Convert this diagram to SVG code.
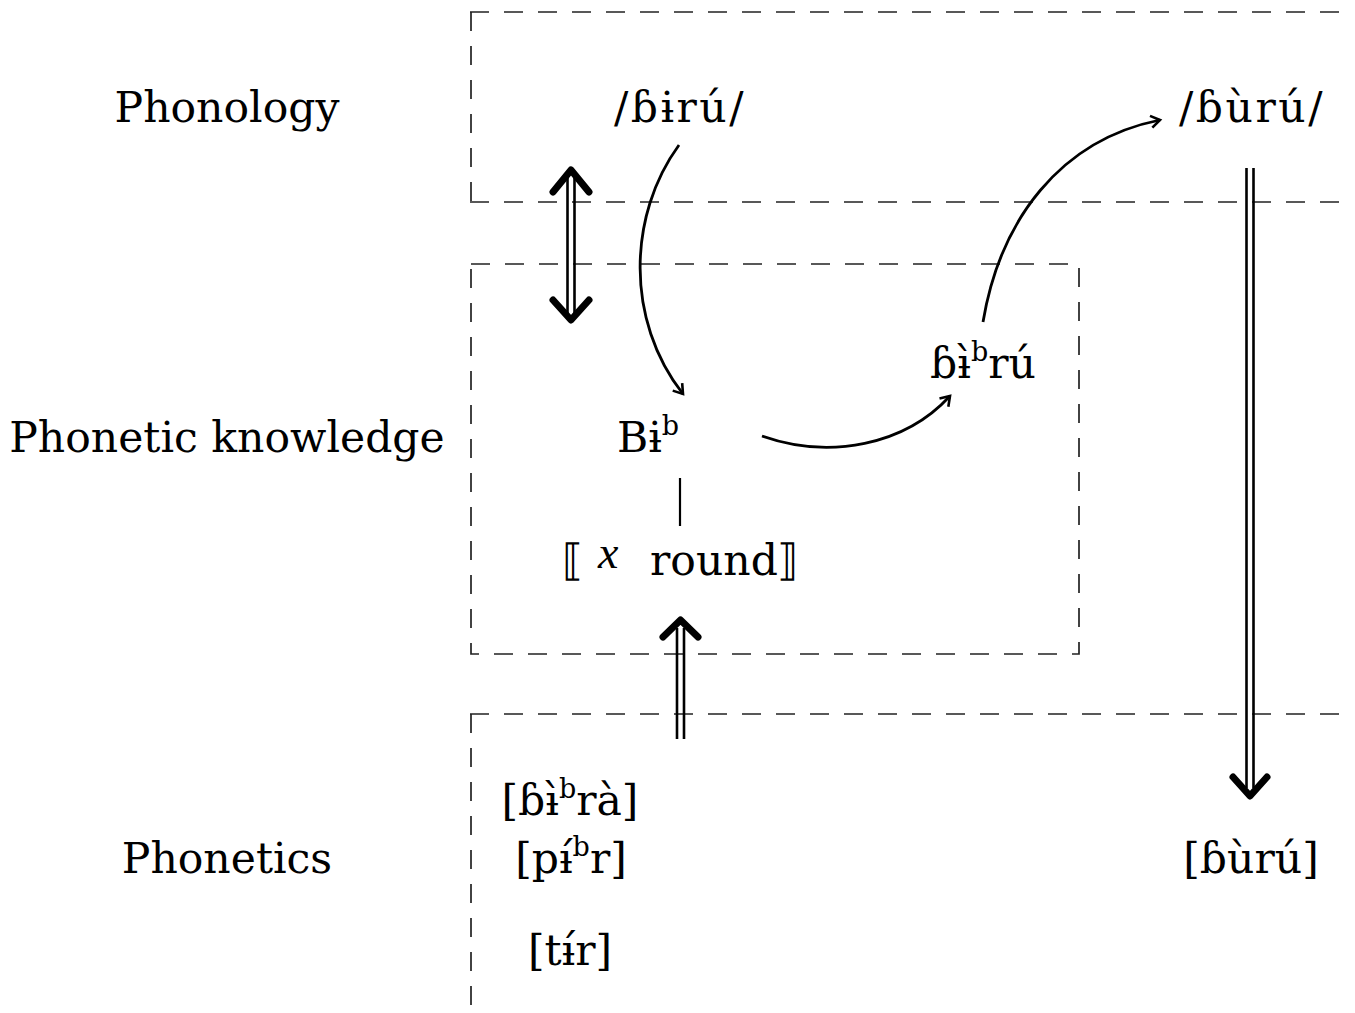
<svg xmlns="http://www.w3.org/2000/svg" width="1355" height="1013" viewBox="0 0 1355 1013">
<style>
text{font-family:"DejaVu Serif","Liberation Serif",serif;fill:#000;font-size:42.5px}
.lbl{text-anchor:middle}
.wide{letter-spacing:2.5px}
.ital{font-family:"Liberation Serif",serif;font-style:italic;font-size:46px}
.dash{stroke:#222;stroke-width:1.7;stroke-dasharray:19 15;fill:none}
.curve{stroke:#000;stroke-width:2.8;fill:none;marker-end:url(#ah)}
.shaft{stroke:#000;stroke-width:2.6;fill:none}
.head{stroke:#000;stroke-width:7;fill:none;stroke-linecap:round;stroke-linejoin:round}
.sup{font-size:27px}
</style>
<defs>
<marker id="ah" markerWidth="20" markerHeight="20" refX="0" refY="0" viewBox="-12 -10 20 20" orient="auto" markerUnits="userSpaceOnUse">
<path d="M-9,-6 L0,0 L-9,6" stroke="#000" stroke-width="2.6" fill="none" stroke-linejoin="miter"/>
</marker>
</defs>
<g id="frames">
<path class="dash" d="M470,12 H1345 M471,12 V202 M470,202 H1345"/>
<rect class="dash" x="471" y="264" width="608" height="390"/>
<path class="dash" d="M470,714 H1345 M471,714 V1013"/>
</g>
<g id="label-phonology"><text class="lbl" x="227" y="122">Phonology</text></g>
<g id="label-knowledge"><text class="lbl" x="227" y="452">Phonetic knowledge</text></g>
<g id="label-phonetics"><text class="lbl" x="227" y="873">Phonetics</text></g>
<g id="node-underlying"><text class="lbl wide" x="680" y="122">/ɓɨrú/</text></g>
<g id="node-output"><text class="lbl wide" x="1252" y="122">/ɓùrú/</text></g>
<g id="node-bib"><text class="lbl" x="648" y="452">Bɨ<tspan class="sup" dy="-17">b</tspan></text></g>
<g id="node-feature">
<text x="562" y="575">⟦</text>
<text class="ital" x="598" y="568">x</text>
<text x="650" y="575">round</text>
<text x="777" y="575">⟧</text>
</g>
<g id="node-intermediate"><text class="lbl" x="983" y="378">ɓɨ̀<tspan class="sup" dy="-17">b</tspan><tspan dy="17">rú</tspan></text></g>
<g id="node-phonetics-list">
<text class="lbl" x="570" y="815">[ɓɨ̀<tspan class="sup" dy="-17">b</tspan><tspan dy="17">rà]</tspan></text>
<text class="lbl" x="571" y="873">[pɨ́<tspan class="sup" dy="-17">b</tspan><tspan dy="17">r]</tspan></text>
<text class="lbl" x="570" y="965">[tɨ́r]</text>
</g>
<g id="node-surface"><text class="lbl" x="1251" y="873">[ɓùrú]</text></g>
<g id="connectors">
<path class="curve" d="M679,145 C628,215 625,320 683,394"/>
<path class="curve" d="M762,436 C830,460 905,445 950,396"/>
<path class="curve" d="M983,322 C1000,220 1060,140 1160,120"/>
<line x1="680" y1="478" x2="680" y2="526" stroke="#000" stroke-width="2.2"/>
<path class="shaft" d="M567.5,176 V314 M574.5,176 V314"/>
<path class="head" d="M553,192 L571,170 L589,192 M553,300 L571,320 L589,300"/>
<path class="shaft" d="M677,628 V739 M684,628 V739"/>
<path class="head" d="M663,637 L680.5,620 L698,637"/>
<path class="shaft" d="M1246.5,168 V788 M1253.5,168 V788"/>
<path class="head" d="M1233,777 L1250,796 L1267,777"/>
</g>
</svg>
